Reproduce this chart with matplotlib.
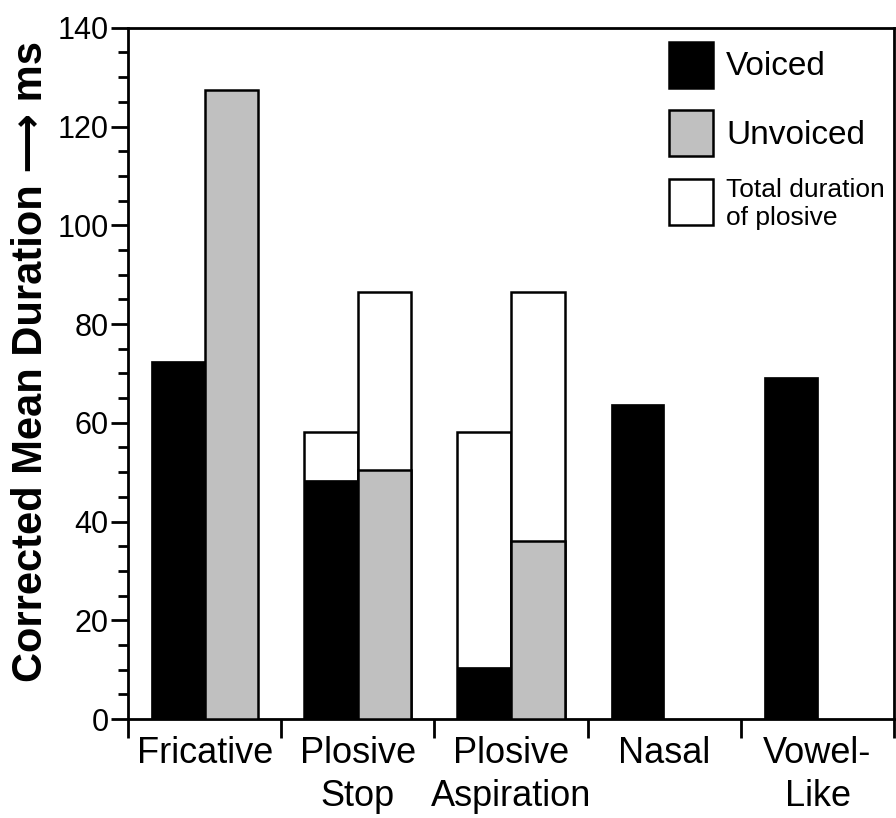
import matplotlib
matplotlib.use("Agg")
import matplotlib.pyplot as plt
from matplotlib.patches import Patch
import numpy as np

categories = ["Fricative", "Plosive\nStop", "Plosive\nAspiration", "Nasal", "Vowel-\nLike"]
voiced = [72.5, 48.5, 10.5, 63.8, 69.2]
unvoiced = [127.5, 50.5, 36.0, np.nan, np.nan]
total_voiced_plosive = [np.nan, 58.2, 58.2, np.nan, np.nan]
total_unvoiced_plosive = [np.nan, 86.5, 86.5, np.nan, np.nan]
legend_labels = ["Voiced", "Unvoiced", "Total duration\nof plosive"]

plt.rcParams['font.family'] = ['Liberation Sans', 'DejaVu Sans']

fig = plt.figure(figsize=(8.96, 8.18), dpi=100)
ax = fig.add_axes([0.1429, 0.121, 0.855, 0.845])

x = np.arange(len(categories)) + 0.5
w = 0.35
lw = 1.8
gray = "#c0c0c0"

# total duration (white) bars behind
ax.bar(x - w/2, total_voiced_plosive, w, color="white", edgecolor="black", linewidth=lw, zorder=2)
ax.bar(x + w/2, total_unvoiced_plosive, w, color="white", edgecolor="black", linewidth=lw, zorder=2)
ax.bar(x - w/2, voiced, w, color="black", edgecolor="black", linewidth=0.5, zorder=3)
ax.bar(x + w/2, unvoiced, w, color=gray, edgecolor="black", linewidth=lw, zorder=3)

ax.set_xlim(0, 5)
ax.set_ylim(0, 140)
ax.set_yticks(np.arange(0, 141, 20))
ax.set_yticks(np.arange(0, 141, 5), minor=True)
ax.set_xticks(np.arange(0, 6))
ax.set_xticklabels([])
ax.set_xticks(x, minor=True)
ax.set_xticklabels(categories, minor=True, fontsize=26, linespacing=1.3)

ax.tick_params(axis='y', which='major', length=12, width=2, labelsize=22, pad=2)
ax.tick_params(axis='y', which='minor', length=7, width=2)
ax.tick_params(axis='x', which='major', length=14, width=2, direction='out')
ax.tick_params(axis='x', which='minor', length=0, pad=12)

for s in ax.spines.values():
    s.set_linewidth(2)

ax.set_ylabel("Corrected Mean Duration \u27f6 ms", fontsize=30, fontweight='bold', va='center')
ax.yaxis.set_label_coords(-0.127, 0.517)

handles = [Patch(facecolor="black", edgecolor="black", linewidth=lw),
           Patch(facecolor=gray, edgecolor="black", linewidth=lw),
           Patch(facecolor="white", edgecolor="black", linewidth=lw)]
leg = ax.legend(handles, legend_labels, loc="upper right", bbox_to_anchor=(0.988, 0.98),
                frameon=False, handlelength=1.32, handleheight=1.75, labelspacing=0.66,
                handletextpad=0.39, fontsize=24, borderaxespad=0.0, borderpad=0.0)
texts = leg.get_texts()
texts[2].set_fontsize(19)

fig.savefig("out.png", dpi=100)
